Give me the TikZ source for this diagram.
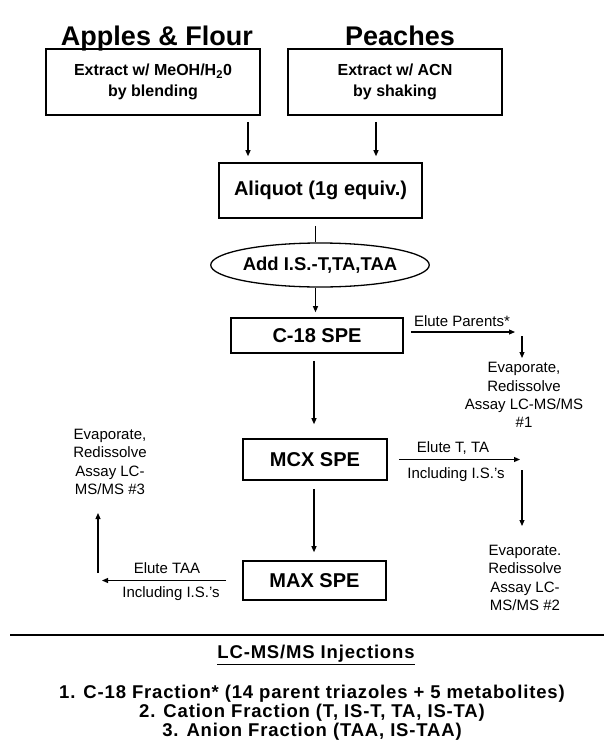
\documentclass[tikz,border=0pt]{standalone}
\usepackage{fontspec}
\setmainfont{Liberation Sans}
\newfontfamily\widefont[LetterSpace=4.5]{Liberation Sans}
\usetikzlibrary{shapes.geometric,arrows.meta}
\begin{document}
\begin{tikzpicture}[x=1pt,y=-1pt,
  box/.style={draw,line width=1.6pt,inner sep=0pt,align=center,font=\bfseries\fontsize{16}{21}\selectfont},
  spe/.style={box,font=\bfseries\fontsize{20}{22}\selectfont},
  arr/.style={line width=1.1pt,-{Triangle[length=6pt,width=5pt]}},
  ln/.style={line width=1.1pt},
  lbl/.style={inner sep=0pt,font=\fontsize{15}{17}\selectfont},
  evap/.style={inner sep=0pt,align=center,font=\fontsize{15}{18.3}\selectfont},
  ttl/.style={inner sep=0pt,anchor=base,font=\bfseries\fontsize{27}{30}\selectfont},
  fin/.style={inner sep=0pt,font=\widefont\bfseries\fontsize{18.5}{20}\selectfont},
]
\path[use as bounding box] (0,0) rectangle (609,755);
% titles
\node[ttl] (t1) at (157,45) {Apples \& Flour};
\node[ttl] (t2) at (400,45) {Peaches};
% extraction boxes
\node[box,minimum width=214pt,minimum height=66pt] (b1) at (153,82) {Extract w/ MeOH/H\textsubscript{2}0\\by blending};
\node[box,minimum width=214pt,minimum height=66pt] (b2) at (395,82) {Extract w/ ACN\\by shaking};
% aliquot
\node[box,minimum width=203pt,minimum height=55pt,font=\bfseries\fontsize{20}{22}\selectfont] (aliq) at (320.5,190.5) {Aliquot (1g equiv.)};
\node[draw,ellipse,line width=1.3pt,minimum width=216pt,minimum height=44pt,inner sep=0pt,font=\bfseries\fontsize{18.5}{20}\selectfont] (ell) at (320,265) {Add I.S.-T,TA,TAA};
% SPE boxes
\node[spe,minimum width=172pt,minimum height=35pt] (c18) at (317,335.5) {C-18 SPE};
\node[spe,minimum width=144pt,minimum height=41pt] (mcx) at (315,459.5) {MCX SPE};
\node[spe,minimum width=143pt,minimum height=39pt] (max) at (314.5,580.5) {MAX SPE};
% evaporate blocks
\node[evap] (ev1) at (524,395) {Evaporate,\\Redissolve\\Assay LC-MS/MS\\\#1};
\node[evap] (ev2) at (525,578) {Evaporate.\\Redissolve\\Assay LC-\\MS/MS \#2};
\node[evap] (ev3) at (110,462) {Evaporate,\\Redissolve\\Assay LC-\\MS/MS \#3};
% labels
\node[lbl] (lp) at (462,321) {Elute Parents*};
\node[lbl] (lt) at (453,448) {Elute T, TA};
\node[lbl] (li1) at (456,475) {Including I.S.'s};
\node[lbl] (la) at (167,568) {Elute TAA};
\node[lbl] (li2) at (171,594) {Including I.S.'s};
% coordinates
\coordinate (a1) at ([xshift=95pt]b1.south);
\coordinate (a2) at ([xshift=-19pt]b2.south);
\coordinate (v1) at ([xshift=-5pt]aliq.south);
\coordinate (v2) at ([xshift=-3pt]c18.south);
\coordinate (v3) at ([xshift=-1pt]mcx.south);
\coordinate (p0) at ([yshift=3.5pt]c18.east);
\coordinate (p1) at (515,332);
\coordinate (d1) at (522,336);
\coordinate (d1e) at (522,358);
\coordinate (q1) at (520,459.5);
\coordinate (d2) at (522,470);
\coordinate (d2e) at (522,526);
\coordinate (u0) at (102,580.5);
\coordinate (u1) at (98,573);
\coordinate (u2) at (98,513);
\coordinate (hl) at (10,635);
\coordinate (hr) at (604,635);
% connectors
\draw[arr,shorten <=6pt,shorten >=6pt] (a1) -- (a1 |- aliq.north);
\draw[arr,shorten <=6pt,shorten >=6pt] (a2) -- (a2 |- aliq.north);
\draw[ln,shorten <=7pt] (v1) -- (v1 |- ell.north);
\draw[arr,shorten >=5pt] (v1 |- ell.south) -- (v1 |- c18.north);
\draw[arr,shorten <=7pt,shorten >=14pt] (v2) -- (v2 |- mcx.north);
\draw[arr,shorten <=8pt,shorten >=8pt] (v3) -- (v3 |- max.north);
\draw[arr,shorten <=7pt] (p0) -- (p1);
\draw[arr] (d1) -- (d1e);
\draw[arr,shorten <=11pt] (mcx.east) -- (q1);
\draw[arr] (d2) -- (d2e);
\draw[arr,shorten <=16pt] (max.west) -- (u0);
\draw[arr] (u1) -- (u2);
% bottom section
\draw[line width=2.2pt] (hl) -- (hr);
\node[fin] (inj) at (316,655) {\underline{LC-MS/MS Injections}};
\node[fin] (r1) at (312,694) {1. C-18 Fraction* (14 parent triazoles + 5 metabolites)};
\node[fin] (r2) at (312,713) {2. Cation Fraction (T, IS-T, TA, IS-TA)};
\node[fin] (r3) at (312,732) {3. Anion Fraction (TAA, IS-TAA)};
\end{tikzpicture}
\end{document}
